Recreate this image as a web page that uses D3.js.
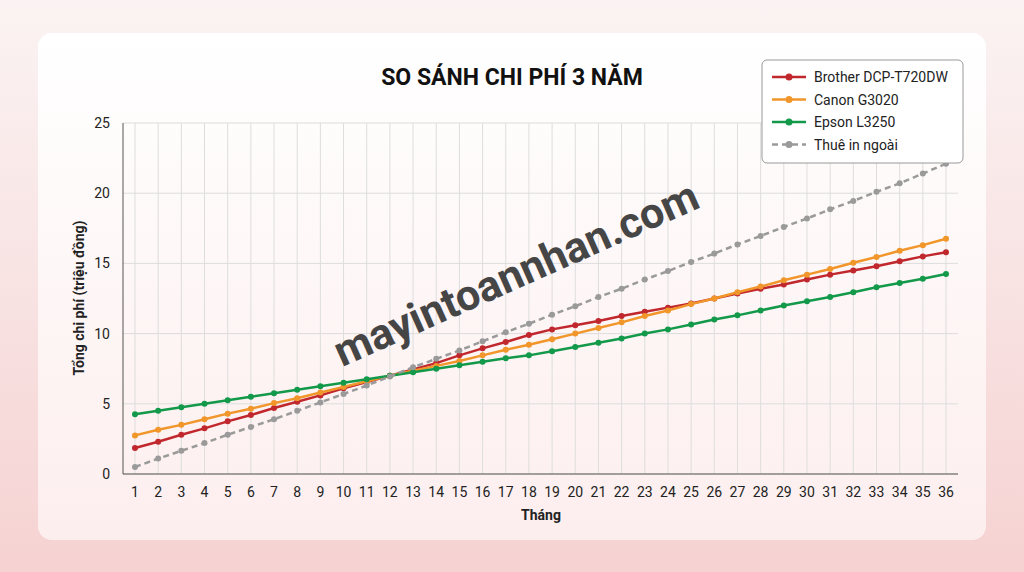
<!DOCTYPE html>
<html><head><meta charset="utf-8">
<script src="https://cdn.jsdelivr.net/npm/d3@7"></script>
<style>body{margin:0;background:linear-gradient(#fbf3f3,#f6d2d2);width:1024px;height:572px;overflow:hidden;font-family:Roboto,"Noto Sans",sans-serif}</style>
</head><body><svg id="c" width="1024" height="572"></svg>
<script>
const months = d3.range(1, 37);
const brother = [1.85,2.3,2.8,3.25,3.75,4.2,4.7,5.15,5.6,6.1,6.55,7.0,7.45,7.9,8.45,8.95,9.4,9.9,10.3,10.6,10.9,11.25,11.55,11.85,12.15,12.5,12.85,13.2,13.5,13.85,14.2,14.5,14.8,15.15,15.5,15.8];
const canon = [2.75,3.15,3.5,3.9,4.3,4.65,5.05,5.4,5.8,6.2,6.6,7.0,7.35,7.7,8.05,8.45,8.85,9.2,9.6,10.0,10.4,10.8,11.25,11.65,12.1,12.5,12.95,13.35,13.8,14.2,14.6,15.05,15.45,15.9,16.3,16.75];
const epson = [4.25,4.5,4.75,5.0,5.25,5.5,5.75,6.0,6.25,6.5,6.75,7.0,7.25,7.5,7.75,8.0,8.25,8.45,8.75,9.05,9.35,9.65,10.0,10.3,10.65,11.0,11.3,11.65,12.0,12.3,12.6,12.95,13.3,13.6,13.9,14.25];
const rental = [0.5,1.1,1.65,2.2,2.8,3.35,3.9,4.5,5.1,5.7,6.3,6.95,7.6,8.2,8.8,9.45,10.1,10.7,11.35,11.95,12.6,13.2,13.85,14.45,15.1,15.7,16.35,16.95,17.6,18.2,18.85,19.45,20.1,20.7,21.4,22.1];
const seriesNames = ["Brother DCP-T720DW","Canon G3020","Epson L3250","Thuê in ngoài"];
const yTicks = [0,5,10,15,20,25];

const series = [
 {name:seriesNames[0], v:brother, c:"#c0282d", dash:null},
 {name:seriesNames[1], v:canon, c:"#f0962a", dash:null},
 {name:seriesNames[2], v:epson, c:"#13994a", dash:null},
 {name:seriesNames[3], v:rental, c:"#9a9a9a", dash:"6,4"}];

const svg = d3.select("#c");
const defs = svg.append("defs");
const g = defs.append("linearGradient").attr("id","cg").attr("x1",0).attr("y1",0).attr("x2",0).attr("y2",1);
g.append("stop").attr("offset","0").attr("stop-color","#ffffff");
g.append("stop").attr("offset","1").attr("stop-color","#fdeeee");
svg.append("rect").attr("x",38).attr("y",33).attr("width",948).attr("height",507).attr("rx",14).attr("fill","url(#cg)");

const x = d3.scaleLinear().domain([1,36]).range([135,946]);
const y = d3.scaleLinear().domain([0,25]).range([474,123]);
const x0 = 123, x1 = 958;

svg.append("g").selectAll("line").data(months).join("line")
 .attr("x1",d=>x(d)).attr("x2",d=>x(d)).attr("y1",y(0)).attr("y2",y(25)).attr("stroke","#dddddd");
svg.append("g").selectAll("line").data(yTicks).join("line")
 .attr("x1",x0).attr("x2",x1).attr("y1",d=>y(d)).attr("y2",d=>y(d)).attr("stroke","#dddddd");
svg.append("line").attr("x1",x0).attr("x2",x1).attr("y1",y(0)).attr("y2",y(0)).attr("stroke","#555");
svg.append("line").attr("x1",x0).attr("x2",x0).attr("y1",y(0)).attr("y2",y(25)).attr("stroke","#555");

svg.append("g").selectAll("text").data(yTicks).join("text")
 .attr("x",110).attr("y",d=>y(d)+5).attr("text-anchor","end").attr("font-size",14).attr("fill","#222").text(d=>d);
svg.append("g").selectAll("text").data(months).join("text")
 .attr("x",d=>x(d)).attr("y",497).attr("text-anchor","middle").attr("font-size",14).attr("fill","#222").text(d=>d);

svg.append("text").attr("x",541).attr("y",520).attr("text-anchor","middle").attr("font-size",14).attr("font-weight","bold").attr("fill","#222").text("Tháng");
svg.append("text").attr("transform","translate(84,298) rotate(-90)").attr("text-anchor","middle").attr("font-size",14).attr("font-weight","bold").attr("fill","#222").text("Tổng chi phí (triệu đồng)");
svg.append("text").attr("x",512).attr("y",85).attr("text-anchor","middle").attr("font-size",23).attr("font-weight","bold").attr("fill","#111").text("SO SÁNH CHI PHÍ 3 NĂM");

const line = d3.line().x((d,i)=>x(months[i])).y(d=>y(d));
series.forEach(s=>{
  svg.append("path").datum(s.v).attr("d",line).attr("fill","none").attr("stroke",s.c).attr("stroke-width",2.5).attr("stroke-dasharray",s.dash);
  svg.append("g").selectAll("circle").data(s.v).join("circle").attr("cx",(d,i)=>x(months[i])).attr("cy",d=>y(d)).attr("r",3).attr("fill",s.c);
});

const lg = svg.append("g");
lg.append("rect").attr("x",762).attr("y",60).attr("width",201).attr("height",103).attr("rx",5).attr("fill","#fff").attr("stroke","#999");
series.forEach((s,i)=>{
  const yy = 77 + i*22.5;
  lg.append("line").attr("x1",772).attr("x2",806).attr("y1",yy).attr("y2",yy).attr("stroke",s.c).attr("stroke-width",2.5).attr("stroke-dasharray",s.dash);
  lg.append("circle").attr("cx",789).attr("cy",yy).attr("r",3.5).attr("fill",s.c);
  lg.append("text").attr("x",814).attr("y",yy+5).attr("font-size",14).attr("fill","#222").text(s.name);
});

svg.append("text").attr("transform","translate(522,287) rotate(-24)").attr("text-anchor","middle")
 .attr("font-size",43).attr("font-weight","bold").attr("fill","#333").attr("opacity",0.9).text("mayintoannhan.com");
</script></body></html>
